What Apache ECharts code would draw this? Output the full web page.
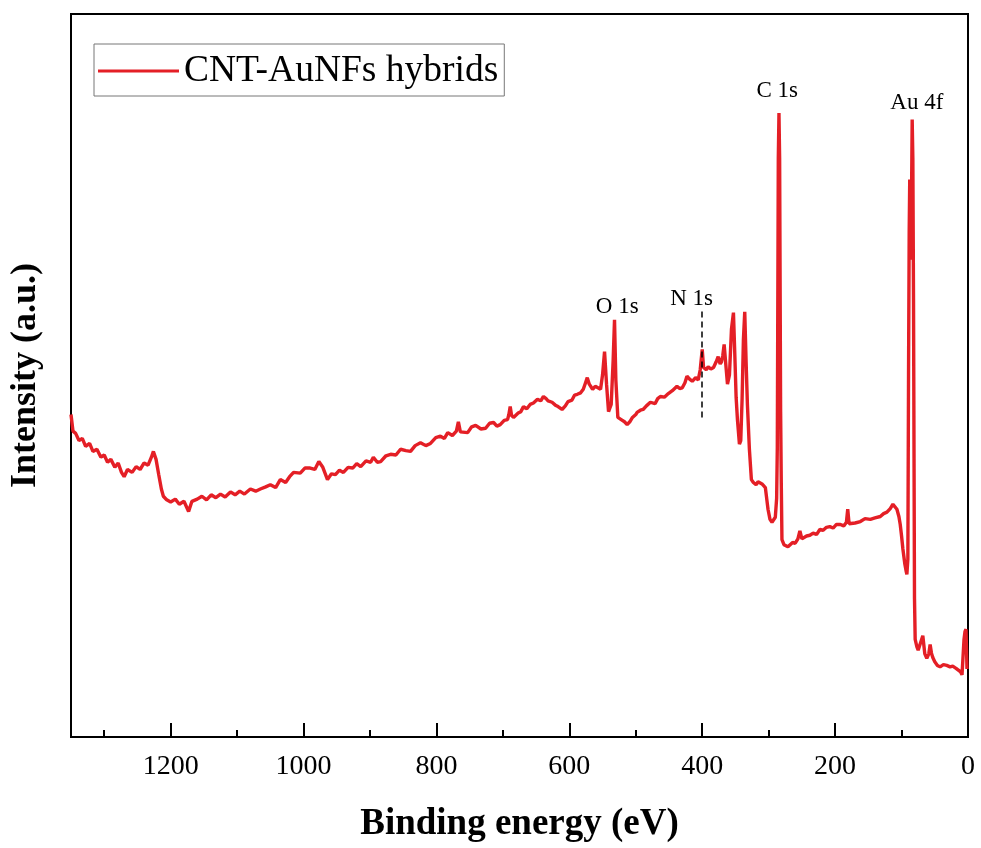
<!DOCTYPE html>
<html>
<head>
<meta charset="utf-8">
<title>XPS survey</title>
<script src="https://cdn.jsdelivr.net/npm/echarts@6/dist/echarts.min.js"></script>
<style>
  html, body { margin: 0; padding: 0; background: #fff; }
  #chart { width: 981px; height: 848px; }
</style>
</head>
<body>
<div id="chart"></div>
<script>
// binding energy (eV), high -> low
const energy = [
  1350, 1347, 1343, 1338, 1333, 1328, 1322, 1317, 1311, 1305, 1300, 1295, 1290, 1284, 1279, 1274,
  1270, 1265, 1258, 1252, 1246, 1240, 1234, 1229, 1226, 1222, 1218, 1214, 1211, 1206, 1200,
  1193, 1187, 1180, 1173, 1168, 1160, 1153, 1146, 1139, 1132, 1125, 1118, 1110, 1103, 1096, 1089,
  1080, 1072, 1065,
  1057, 1050, 1042, 1035, 1027, 1021, 1015, 1005, 998, 990, 983, 977, 971, 964, 958, 952, 946, 940,
  933, 926, 920, 914, 906, 899, 895, 889, 884, 876, 869, 861, 854, 846, 839, 832, 824, 816, 809,
  801, 794, 788, 783, 776, 770, 767, 764, 761, 753, 747, 741, 733, 726, 720, 714, 709, 704, 698,
  693, 691, 689, 687, 684, 677, 673, 669, 664, 659, 654, 648, 643, 639, 635, 632, 626, 621, 617,
  611, 606, 602, 596, 592, 588,
  583, 579, 576, 573, 570, 568, 565, 561, 558, 553, 550, 547, 544, 541, 537, 534, 532, 530, 527,
  522, 517, 513, 509, 505, 500, 498, 493, 489, 484, 478, 471, 467, 463, 457, 451, 445, 438, 434,
  430, 426, 423, 419, 415, 410, 406, 403, 400, 398, 394, 391, 387, 383, 379, 376, 373, 371, 369,
  367, 364, 362, 359, 356, 353, 351, 349, 347, 344, 342, 340, 338, 336, 334, 332, 329, 326, 323,
  319, 316, 313, 310, 308, 305, 303, 301, 298, 295, 293, 290, 288, 287, 285.5, 284.5, 283.5, 282,
  281, 280, 277, 274, 271, 268, 264, 260, 256, 253, 250, 247, 243, 238, 233, 228, 223, 218, 213,
  208, 203, 198, 192, 187, 183, 181, 179, 177, 170, 162, 155, 147, 140, 132, 127, 122, 117, 113,
  110, 107, 104, 102, 100, 98, 95, 93, 92, 90.5, 89.5, 88.5, 87.7, 86.5, 85.5, 84.5, 84, 83, 82,
  80.5, 79.5, 77, 75, 72, 68, 65, 62, 59, 57, 55, 53, 50, 46, 42, 37, 32, 27, 23, 18, 15, 11, 9,
  6, 4.5, 3, 1.5
];
// intensity (a.u.), same order
const intensity = [
  44.6, 42.3, 42.0, 41.0, 41.3, 40.2, 40.6, 39.5, 39.8, 38.7, 39.0, 38.0, 38.4, 37.3, 37.9, 36.6,
  36.0, 37.0, 36.6, 37.4, 37.0, 37.9, 37.6, 38.7, 39.5, 38.4, 36.3, 34.3, 33.3, 32.8, 32.5,
  32.9, 32.2, 32.6, 31.2, 32.6, 32.9, 33.3, 32.8, 33.5, 33.1, 33.6, 33.2, 33.9, 33.5, 34.0, 33.6,
  34.3, 34.0, 34.3,
  34.6, 34.9, 34.5, 35.6, 35.2, 36.0, 36.6, 36.5, 37.2, 37.2, 37.0, 38.1, 37.3, 35.6, 36.4, 36.3, 36.9, 36.6,
  37.3, 37.2, 37.8, 37.4, 38.2, 38.0, 38.7, 38.0, 38.1, 38.9, 39.1, 39.0, 39.8, 39.6, 39.5, 40.3, 40.7, 40.3, 40.6,
  41.4, 41.6, 41.3, 42.1, 41.7, 42.3, 43.6, 42.2, 42.0, 42.1, 42.9, 43.1, 42.6, 42.7, 43.4, 43.5, 43.0, 43.2, 43.8,
  43.9, 44.6, 45.7, 44.5, 44.2, 44.8, 45.0, 45.7, 45.4, 46.0, 46.2, 46.7, 46.5, 47.1, 46.8, 46.5, 46.3, 45.9, 45.7,
  45.3, 45.8, 46.4, 46.6, 47.3, 47.4,
  47.6, 48.1, 48.9, 49.7, 48.8, 48.8, 48.1, 48.5, 48.3, 48.1, 50.1, 53.3, 48.8, 45.0, 46.0, 52.2, 57.7, 49.4, 44.2,
  43.9, 43.6, 43.2, 43.6, 44.2, 44.6, 44.9, 45.2, 45.3, 45.8, 46.3, 46.1, 46.8, 47.1, 47.0, 47.5, 47.9, 48.5, 48.2,
  48.3, 49.0, 49.9, 49.5, 49.2, 49.7, 49.4, 50.8, 53.6, 51.1, 50.8, 51.2, 50.9, 51.1, 51.9, 52.6, 51.6, 51.9, 52.8,
  54.3, 51.0, 48.8, 50.1, 56.4, 58.7, 53.0, 47.0, 43.9, 40.5, 41.0, 46.7, 55.0, 58.8, 52.0, 46.0, 39.8, 35.6, 35.2,
  34.9, 35.3, 35.4, 35.0, 34.9, 34.5, 33.0, 31.5, 30.1, 29.7, 29.8, 30.4, 33.0, 40.0, 80.0, 86.3, 80.0, 45.0,
  35.0, 27.3, 26.6, 26.8, 26.3, 26.4, 26.9, 26.8, 27.4, 28.5, 27.4, 27.3, 27.8, 27.9, 28.2, 28.0, 28.7, 28.6, 29.0,
  29.1, 28.9, 29.4, 29.4, 29.2, 29.7, 31.5, 29.5, 29.6, 29.6, 29.8, 30.2, 30.1, 30.3, 30.5, 30.9, 31.1, 31.6, 32.2,
  32.0, 31.5, 30.5, 29.4, 27.8, 26.0, 23.9, 22.9, 22.5, 24.6, 50.0, 70.0, 77.1, 66.0, 70.0, 80.0, 85.4, 80.0, 60.5,
  19.1, 13.5, 12.5, 12.0, 12.2, 14.0, 11.5, 10.9, 11.5, 12.8, 11.6, 11.0, 10.4, 9.9, 9.7, 10.0, 9.9, 9.7, 9.8, 9.5, 9.4, 9.0, 8.6,
  13.5, 14.6, 14.9, 9.4
];

// peak annotations: text, energy, height of the text centre
const peakNames = ["O 1s", "N 1s", "C 1s", "Au 4f"];
const peakEnergy = [528, 416, 287, 77];
const peakLevel = [59.5, 60.6, 89.3, 87.7];

// dashed guide at N 1s
const nGuideEnergy = 400;
const nGuideRange = [44.2, 59.1];

const xMin = 0;
const xMax = 1350;
const majorStep = 200;
const minorStep = 100;

const serif = "Liberation Serif";
const red = "#e41f26";
const chart = echarts.init(document.getElementById("chart"));

chart.setOption({
  backgroundColor: "#fff",
  animation: false,
  grid: {
    left: 70, right: 13, top: 14, bottom: 110,
    show: true, borderColor: "#000", borderWidth: 2
  },
  legend: {
    left: 94, top: 44,
    padding: [6, 6, 4, 4],
    borderColor: "#777", borderWidth: 1,
    icon: "rect",
    itemWidth: 81, itemHeight: 3,
    textStyle: { fontFamily: serif, fontSize: 37.5, color: "#000", lineHeight: 42 },
    data: ["CNT-AuNFs hybrids"]
  },
  xAxis: [
    {
      type: "value",
      inverse: true,
      min: xMin, max: xMax, interval: majorStep,
      position: "bottom",
      name: "Binding energy (eV)",
      nameLocation: "middle",
      nameGap: 69,
      nameTextStyle: { fontFamily: serif, fontSize: 37, fontWeight: "bold", color: "#000" },
      axisLine: { show: true, onZero: false, lineStyle: { color: "#000", width: 2 } },
      axisTick: { show: true, inside: true, length: 14, lineStyle: { color: "#000", width: 2 } },
      axisLabel: {
        margin: 16, fontFamily: serif, fontSize: 28, color: "#000",
        formatter: v => (v % majorStep === 0 ? String(v) : "")
      },
      splitLine: { show: false }
    },
    {
      // minor ticks only
      type: "value",
      inverse: true,
      min: xMin, max: xMax, interval: minorStep,
      position: "bottom",
      axisLine: { show: false, onZero: false },
      axisTick: { show: true, inside: true, length: 7, lineStyle: { color: "#000", width: 2 } },
      axisLabel: { show: false },
      splitLine: { show: false }
    }
  ],
  yAxis: {
    type: "value",
    min: 0, max: 100,
    name: "Intensity (a.u.)",
    nameLocation: "middle",
    nameGap: 27,
    nameTextStyle: { fontFamily: serif, fontSize: 36, fontWeight: "bold", color: "#000" },
    axisLine: { show: true, lineStyle: { color: "#000", width: 2 } },
    axisTick: { show: false },
    axisLabel: { show: false },
    splitLine: { show: false }
  },
  series: [
    {
      name: "CNT-AuNFs hybrids",
      type: "line",
      xAxisIndex: 0,
      symbol: "none",
      showSymbol: false,
      lineStyle: { color: red, width: 3.4 },
      itemStyle: { color: red },
      data: energy.map((e, i) => [e, intensity[i]]),
      markPoint: {
        symbol: "circle",
        symbolSize: 1,
        itemStyle: { color: "rgba(0,0,0,0)" },
        label: {
          show: true, position: "inside", formatter: "{b}",
          fontFamily: serif, fontSize: 23, color: "#000"
        },
        data: peakNames.map((n, i) => ({ name: n, coord: [peakEnergy[i], peakLevel[i]] }))
      },
      markLine: {
        symbol: "none",
        silent: true,
        label: { show: false },
        lineStyle: { color: "#000", type: [6, 4], width: 1.5 },
        data: [[
          { coord: [nGuideEnergy, nGuideRange[0]] },
          { coord: [nGuideEnergy, nGuideRange[1]] }
        ]]
      }
    }
  ]
});
</script>
</body>
</html>
